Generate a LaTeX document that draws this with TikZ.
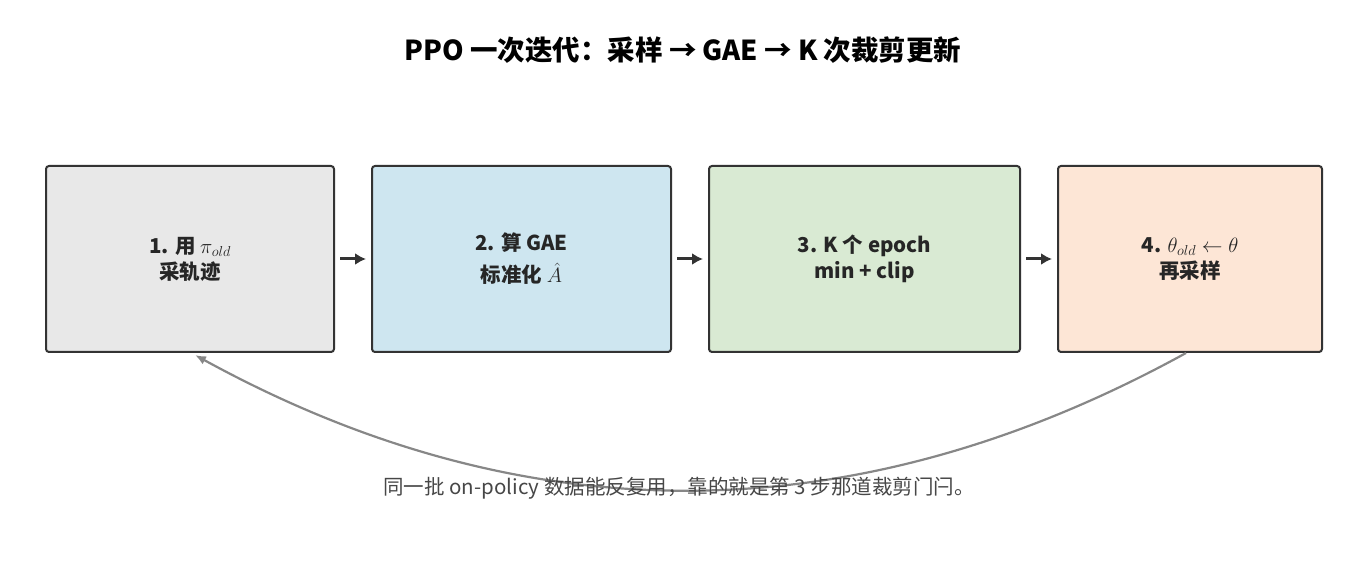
\documentclass[tikz,border=0pt]{standalone}
\usepackage{fontspec}
\setmainfont{Noto Sans CJK SC}
\usepackage{amsmath}
\usetikzlibrary{arrows.meta}
\begin{document}
\begin{tikzpicture}[x=1pt,y=-1pt,
 box/.style={draw=black!80,line width=2pt,rounded corners=3pt,anchor=north west,inner sep=0pt,align=center,font=\bfseries\fontsize{20.5}{26}\selectfont,text=black!85},
 arr/.style={-{Latex[length=11pt,width=12pt]},line width=3pt,draw=black!80}]
\useasboundingbox (0,0) rectangle (1366,561);
\node[font=\bfseries\fontsize{27.5}{31}\selectfont] (t) at (683,50) {PPO 一次迭代：采样 → GAE → K 次裁剪更新};
\node[box,fill=black!9,minimum width=288pt,minimum height=186pt] (b1) at (45,165) {1. 用 $\pi_{old}$\\采轨迹};
\node[box,fill={rgb,255:red,206;green,230;blue,240},minimum width=299pt,minimum height=186pt] (b2) at (371,165) {2. 算 GAE\\[6pt]标准化 $\hat{A}$};
\node[box,fill={rgb,255:red,217;green,234;blue,211},minimum width=311pt,minimum height=186pt] (b3) at (708,165) {3. K 个 epoch\\min + clip};
\node[box,fill={rgb,255:red,253;green,230;blue,214},minimum width=264pt,minimum height=186pt] (b4) at (1057,165) {4. $\theta_{old}\leftarrow\theta$\\再采样};
\draw[arr] ([xshift=5pt]b1.east) -- ([xshift=-5pt]b2.west);
\draw[arr] ([xshift=5pt]b2.east) -- ([xshift=-5pt]b3.west);
\draw[arr] ([xshift=5pt]b3.east) -- ([xshift=-5pt]b4.west);
\coordinate (s) at (1186,353);
\coordinate (e) at (195,355);
\draw[-{Latex[length=11pt,width=9pt]},draw=black!47,line width=2.2pt] (s) .. controls (855,535) and (525,536) .. (e);
\node[font=\fontsize{20.5}{24}\selectfont,text=black!72] (n) at (679,488) {同一批 on-policy 数据能反复用，靠的就是第 3 步那道裁剪门闩。};
\end{tikzpicture}
\end{document}
